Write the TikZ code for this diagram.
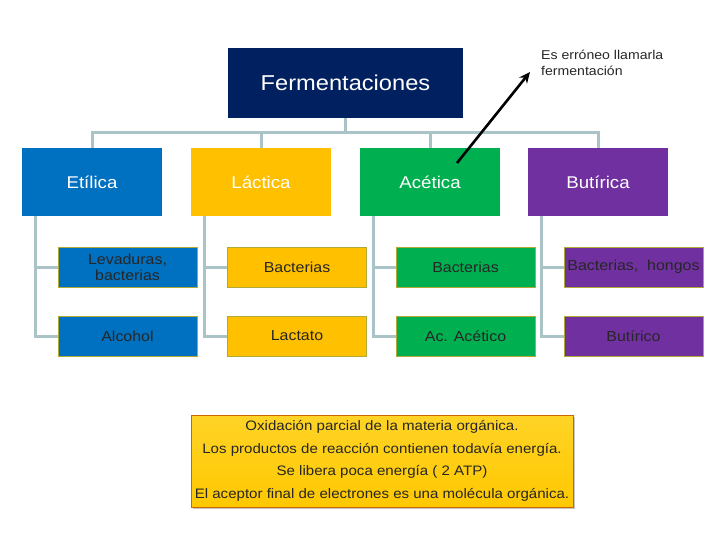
\documentclass[tikz,border=0pt]{standalone}
\usepackage{fontspec}
\setmainfont[FakeStretch=1.1]{Liberation Sans}
\usepackage{tikz}
\usetikzlibrary{arrows.meta,positioning,shadows,calc}

\definecolor{navy}{HTML}{002060}
\definecolor{tblue}{HTML}{0070C0}
\definecolor{tyellow}{HTML}{FFC000}
\definecolor{tgreen}{HTML}{00B050}
\definecolor{tpurple}{HTML}{7030A0}
\definecolor{linkgray}{HTML}{A9C3C7}
\definecolor{notegold}{HTML}{FFCC00}

\begin{document}
\begin{tikzpicture}[x=1pt, y=-1pt,
    head/.style={rectangle, fill=navy, text=white, minimum width=235pt, minimum height=70pt, inner sep=0pt, font=\fontsize{21.5}{24}\selectfont},
    kind/.style={rectangle, text=white, minimum width=140pt, minimum height=68pt, inner sep=0pt, font=\fontsize{17}{19}\selectfont},
    sub/.style={rectangle, draw=olive!70, line width=0.6pt, text=black!85, minimum width=139pt, minimum height=40pt, inner sep=0pt, align=center, font=\fontsize{14.5}{16}\selectfont},
    link/.style={draw=linkgray, line width=3pt}]
    \useasboundingbox (0,0) rectangle (720,540);
    \node[head] (ferm) at (345.5,83) {Fermentaciones};
    \node[kind, fill=tblue]   (etilica)  at (92,182)  {Etílica};
    \node[kind, fill=tyellow] (lactica)  at (261,182) {Láctica};
    \node[kind, fill=tgreen]  (acetica)  at (430,182) {Acética};
    \node[kind, fill=tpurple] (butirica) at (598,182) {Butírica};
    \draw[link] (ferm.south) -- ++(0,14) -| (etilica.north);
    \draw[link] (ferm.south) -- ++(0,14) -| (lactica.north);
    \draw[link] (ferm.south) -- ++(0,14) -| (acetica.north);
    \draw[link] (ferm.south) -- ++(0,14) -| (butirica.north);
    % organismos
    \node[sub, fill=tblue]   (lev)  at (127.5,267) {Levaduras,\\bacterias};
    \node[sub, fill=tyellow] (bac1) at (297,267)   {Bacterias};
    \node[sub, fill=tgreen]  (bac2) at (465.5,267) {Bacterias};
    \node[sub, fill=tpurple] (bac3) at (633.5,267) {Bacterias,\ \ hongos};
    % productos
    \node[sub, fill=tblue]   (alc)  at (127.5,336) {Alcohol};
    \node[sub, fill=tyellow] (lac)  at (297,336)   {Lactato};
    \node[sub, fill=tgreen]  (acac) at (465.5,336) {Ac. Acético};
    \node[sub, fill=tpurple] (but)  at (633.5,336) {Butírico};
    \draw[link] ([xshift=14pt]etilica.south west) |- (lev.west);
    \draw[link] ([xshift=14pt]etilica.south west) |- (alc.west);
    \draw[link] ([xshift=14pt]lactica.south west) |- (bac1.west);
    \draw[link] ([xshift=14pt]lactica.south west) |- (lac.west);
    \draw[link] ([xshift=14pt]acetica.south west) |- (bac2.west);
    \draw[link] ([xshift=14pt]acetica.south west) |- (acac.west);
    \draw[link] ([xshift=14pt]butirica.south west) |- (bac3.west);
    \draw[link] ([xshift=14pt]butirica.south west) |- (but.west);
    % nota
    \node[anchor=north west, align=left, inner sep=0pt, text=black!85, font=\fontsize{12.8}{16}\selectfont] (note) at (541,50) {Es erróneo llamarla\\fermentación};
    \coordinate (tail) at (457,163);
    \coordinate (tip) at (530,72);
    \draw[-{Stealth[length=11pt,width=10pt]}, line width=2.6pt, black] (tail) -- (tip);
    % resumen
    \node[rectangle, draw=orange!80!black, line width=0.5pt, top color=notegold!85!white, bottom color=notegold!95!orange, drop shadow={shadow xshift=2pt, shadow yshift=-2pt, opacity=0.45}, minimum width=382pt, minimum height=92pt, inner sep=0pt, align=center, text=black!85, font=\fontsize{13.7}{22.7}\selectfont] (summary) at (382,461)
      {Oxidación parcial de la materia orgánica.\\Los productos de reacción contienen todavía energía.\\Se libera poca energía ( 2 ATP)\\El aceptor final de electrones es una molécula orgánica.};
\end{tikzpicture}
\end{document}
